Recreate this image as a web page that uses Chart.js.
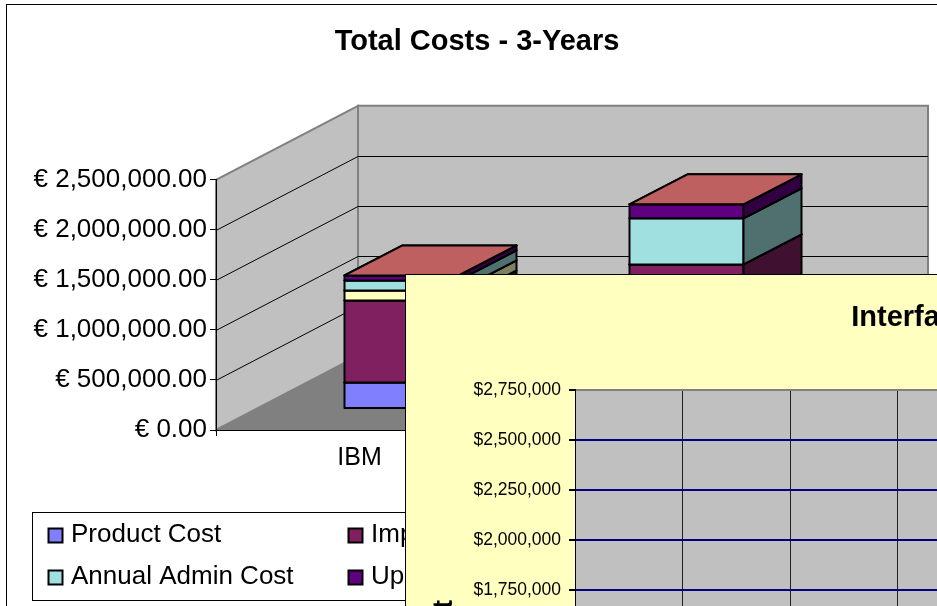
<!DOCTYPE html>
<html lang="en">
<head>
<meta charset="UTF-8">
<title>Total Costs - 3-Years</title>
<script src="https://cdnjs.cloudflare.com/ajax/libs/Chart.js/4.4.1/chart.umd.min.js"></script>
<style>
    html, body { margin: 0; padding: 0; background: #fff; }
    #page { position: relative; width: 937px; height: 606px; overflow: hidden; }
    #frame { position: absolute; left: 6px; top: 4px; width: 1100px; height: 800px; border: 1px solid #000; }
    #costChart { position: absolute; left: 0; top: 0; }
    #interfacePanel { position: absolute; left: 405px; top: 274px; width: 1100px; height: 700px; background: #ffffc0; border: 1px solid #000; }
</style>
</head>
<body>
<div id="page">
    <div id="frame"></div>
    <canvas id="costChart" width="954" height="606"></canvas>
    <div id="interfacePanel"><canvas id="interfaceChart" width="1100" height="700"></canvas></div>
</div>
<script>
    // Total costs chart
    const vendors = ['IBM', 'Other'];
    const seriesNames = ['Product Cost', 'Implementation Cost', 'Training Cost', 'Annual Admin Cost', 'Upgrade Cost', 'Other Cost'];
    const seriesColors = ['#8080ff', '#802060', '#ffffc0', '#a0e0e0', '#600080', '#ff8080'];
    const productCost = [260000, 200000];
    const implementationCost = [820000, 1240000];
    const trainingCost = [100000, 0];
    const adminCost = [100000, 460000];
    const upgradeCost = [50000, 140000];
    const otherCost = [0, 0];
    const costTicks = [0, 500000, 1000000, 1500000, 2000000, 2500000];

    // Interface chart: its bars sit below the visible crop, so no values can be read
    const interfaceLabels = ['', '', '', '', ''];
    const interfaceValues = [];
    const interfaceTicks = [0, 250000, 500000, 750000, 1000000, 1250000, 1500000, 1750000, 2000000, 2250000, 2500000, 2750000];

    const seriesValues = [productCost, implementationCost, trainingCost, adminCost, upgradeCost, otherCost];

    Chart.defaults.font.family = '"Liberation Sans", Arial, sans-serif';
    Chart.defaults.color = '#000';
    Chart.defaults.animation = false;

    // depth of the 3D box, and how far the bars sit into the floor
    const WALL_DX = 142, WALL_DY = -74;
    const BAR_OFF_X = 43, BAR_OFF_Y = -21.5;
    const BAR_DX = 58, BAR_DY = -30;

    // empty axis on the right, keeps the plot narrow while the title centres on the whole canvas
    const spacerAxis = width => ({
        position: 'right',
        afterFit: s => { s.width = width; },
        grid: { display: false },
        border: { display: false },
        ticks: { display: false }
    });

    function shade(hex, k) {
        const n = parseInt(hex.slice(1), 16);
        const c = [(n >> 16) & 255, (n >> 8) & 255, n & 255].map(v => Math.round(v * k));
        return `rgb(${c[0]},${c[1]},${c[2]})`;
    }

    function poly(ctx, pts, fill, stroke, width) {
        ctx.beginPath();
        pts.forEach((p, i) => i ? ctx.lineTo(p[0], p[1]) : ctx.moveTo(p[0], p[1]));
        ctx.closePath();
        if (fill) { ctx.fillStyle = fill; ctx.fill(); }
        if (stroke) { ctx.strokeStyle = stroke; ctx.lineWidth = width; ctx.stroke(); }
    }

    const box3d = {
        id: 'box3d',
        beforeDraw(chart) {
            const { ctx, chartArea: a, scales } = chart;
            const dx = WALL_DX, dy = WALL_DY;
            ctx.save();
            poly(ctx, [[a.left, a.bottom], [a.right, a.bottom], [a.right + dx, a.bottom + dy], [a.left + dx, a.bottom + dy]], '#808080');
            poly(ctx, [[a.left, a.bottom], [a.left + dx, a.bottom + dy], [a.left + dx, a.top + dy], [a.left, a.top]], '#c0c0c0', '#808080', 2);
            poly(ctx, [[a.left + dx, a.top + dy], [a.right + dx, a.top + dy], [a.right + dx, a.bottom + dy], [a.left + dx, a.bottom + dy]], '#c0c0c0', '#808080', 2);
            // gridlines run along the side wall and then across the back wall
            ctx.strokeStyle = '#000';
            ctx.lineWidth = 1;
            scales.y.ticks.forEach(t => {
                if (t.value === 0 || t.value === scales.y.max) return;
                const y = Math.round(scales.y.getPixelForValue(t.value)) + 0.5;
                ctx.beginPath();
                ctx.moveTo(a.left, y);
                ctx.lineTo(a.left + dx, y + dy);
                ctx.lineTo(a.right + dx, y + dy);
                ctx.stroke();
            });
            ctx.restore();
        },
        beforeDatasetsDraw(chart) {
            const ctx = chart.ctx;
            ctx.save();
            ctx.lineJoin = 'round';
            chart.data.datasets.forEach((ds, i) => {
                chart.getDatasetMeta(i).data.forEach(el => {
                    const x0 = el.x - el.width / 2 + BAR_OFF_X, x1 = el.x + el.width / 2 + BAR_OFF_X;
                    const yt = el.y + BAR_OFF_Y, yb = el.base + BAR_OFF_Y;
                    const c = ds.backgroundColor;
                    poly(ctx, [[x0, yb], [x1, yb], [x1, yt], [x0, yt]], c, '#000', 2);
                    poly(ctx, [[x1, yb], [x1 + BAR_DX, yb + BAR_DY], [x1 + BAR_DX, yt + BAR_DY], [x1, yt]], shade(c, 0.5), '#000', 2);
                    poly(ctx, [[x0, yt], [x1, yt], [x1 + BAR_DX, yt + BAR_DY], [x0 + BAR_DX, yt + BAR_DY]], shade(c, 0.75), '#000', 2);
                });
            });
            ctx.restore();
            return false;
        },
        afterDraw(chart) {
            // legend box, two rows of three
            const ctx = chart.ctx;
            ctx.save();
            ctx.fillStyle = '#fff';
            ctx.strokeStyle = '#000';
            ctx.lineWidth = 1;
            ctx.fillRect(32.5, 512.5, 900, 88);
            ctx.strokeRect(32.5, 512.5, 900, 88);
            ctx.font = '26px "Liberation Sans"';
            ctx.textBaseline = 'middle';
            chart.data.datasets.forEach((ds, i) => {
                const col = [48, 348, 650][i % 3], y = i < 3 ? 528 : 570;
                ctx.fillStyle = ds.backgroundColor;
                ctx.fillRect(col + 0.5, y + 0.5, 14, 14);
                ctx.lineWidth = 2;
                ctx.strokeRect(col + 0.5, y + 0.5, 14, 14);
                ctx.fillStyle = '#000';
                ctx.fillText(ds.label, col + 23, y + 7);
            });
            ctx.restore();
        }
    };

    new Chart(document.getElementById('costChart'), {
        type: 'bar',
        data: {
            labels: vendors,
            datasets: seriesNames.map((name, i) => ({
                label: name,
                data: seriesValues[i],
                backgroundColor: seriesColors[i]
            }))
        },
        plugins: [box3d],
        options: {
            responsive: false,
            barPercentage: 0.4,
            categoryPercentage: 1,
            plugins: {
                legend: { display: false },
                tooltip: { enabled: false },
                title: {
                    display: true,
                    text: 'Total Costs - 3-Years',
                    font: { size: 29, weight: 'bold' },
                    color: '#000',
                    padding: { top: 25, bottom: 120 }
                }
            },
            scales: {
                x: {
                    stacked: true,
                    afterFit: s => { s.height = 176; },
                    grid: { drawOnChartArea: false, tickLength: 6, color: '#000' },
                    border: { color: '#000', width: 1 },
                    ticks: { font: { size: 25 }, padding: 7, maxRotation: 0, labelOffset: 1 }
                },
                y: {
                    stacked: true,
                    min: 0,
                    max: 2500000,
                    afterFit: s => { s.width = 216; },
                    afterBuildTicks: s => { s.ticks = costTicks.map(v => ({ value: v })); },
                    grid: { drawOnChartArea: false, tickLength: 6, color: '#000' },
                    border: { color: '#000', width: 1 },
                    ticks: {
                        font: { size: 26 },
                        padding: 3,
                        callback: v => '€ ' + v.toLocaleString('en-US', { minimumFractionDigits: 2, maximumFractionDigits: 2 })
                    }
                },
                spacer: spacerAxis(168)
            }
        }
    });

    const plotBack = {
        id: 'plotBack',
        beforeDraw(chart) {
            const a = chart.chartArea;
            chart.ctx.fillStyle = '#c0c0c0';
            chart.ctx.fillRect(a.left, a.top, a.right - a.left, a.bottom - a.top);
        }
    };

    new Chart(document.getElementById('interfaceChart'), {
        type: 'bar',
        data: {
            labels: interfaceLabels,
            datasets: [{ label: 'Interface', data: interfaceValues, backgroundColor: '#8080ff' }]
        },
        plugins: [plotBack],
        options: {
            responsive: false,
            plugins: {
                legend: { display: false },
                tooltip: { enabled: false },
                title: {
                    display: true,
                    text: 'Interface Costs',
                    font: { size: 29, weight: 'bold' },
                    color: '#000',
                    padding: { top: 26, bottom: 54 }
                }
            },
            scales: {
                x: {
                    afterFit: s => { s.height = 35; },
                    grid: { color: '#202020', lineWidth: 1, tickColor: '#000' },
                    border: { color: '#000', width: 1 }
                },
                y: {
                    min: 0,
                    max: 2750000,
                    afterFit: s => { s.width = 169; },
                    afterBuildTicks: s => { s.ticks = interfaceTicks.map(v => ({ value: v })); },
                    title: {
                        display: true,
                        text: 'Total Cost',
                        font: { size: 27, weight: 'bold' },
                        color: '#000',
                        padding: { top: 22, bottom: 0 }
                    },
                    grid: {
                        color: c => c.tick && c.tick.value === 2750000 ? '#808080' : '#000080',
                        lineWidth: 2,
                        tickColor: '#000',
                        tickLength: 6
                    },
                    border: { color: '#000', width: 1 },
                    ticks: {
                        font: { size: 17.5 },
                        padding: 8,
                        callback: v => '$' + v.toLocaleString('en-US')
                    }
                },
                spacer: spacerAxis(393)
            }
        }
    });
</script>
</body>
</html>
